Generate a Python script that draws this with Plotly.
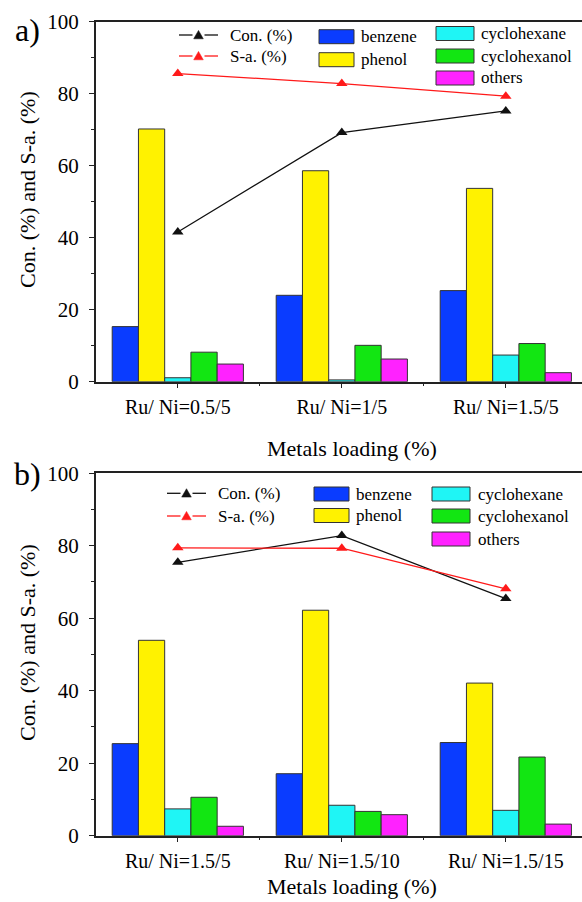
import plotly.graph_objects as go

# ---------------- data ----------------
categories_a = ["Ru/ Ni=0.5/5", "Ru/ Ni=1/5", "Ru/ Ni=1.5/5"]
categories_b = ["Ru/ Ni=1.5/5", "Ru/ Ni=1.5/10", "Ru/ Ni=1.5/15"]
positions = [0, 1, 2]

benzene_a = [15.3, 24.0, 25.3]
phenol_a = [70.2, 58.6, 53.7]
cyclohexane_a = [1.1, 0.5, 7.4]
cyclohexanol_a = [8.2, 10.1, 10.6]
others_a = [4.9, 6.3, 2.5]
con_a = [41.6, 69.2, 75.2]
sa_a = [85.6, 82.8, 79.3]

benzene_b = [25.4, 17.1, 25.7]
phenol_b = [53.9, 62.2, 42.1]
cyclohexane_b = [7.4, 8.4, 7.0]
cyclohexanol_b = [10.6, 6.7, 21.7]
others_b = [2.6, 5.8, 3.2]
con_b = [75.4, 82.8, 65.4]
sa_b = [79.4, 79.3, 68.1]

product_names = ["benzene", "phenol", "cyclohexane", "cyclohexanol", "others"]
product_colors = ["#0a3cff", "#fff200", "#1ff5f5", "#12e612", "#ff22ff"]
y_ticks = [0, 20, 40, 60, 80, 100]

# ---------------- layout helpers ----------------
W, H = 582, 902
FONT = "Liberation Serif, Times New Roman, serif"


def px(x):
    return x / W


def py(y):
    return 1 - y / H


fig = go.Figure()

panels = [
    dict(xa="x", ya="y", cats=categories_a,
         bars=[benzene_a, phenol_a, cyclohexane_a, cyclohexanol_a, others_a],
         con=con_a, sa=sa_a),
    dict(xa="x2", ya="y2", cats=categories_b,
         bars=[benzene_b, phenol_b, cyclohexane_b, cyclohexanol_b, others_b],
         con=con_b, sa=sa_b),
]

for p in panels:
    for name, color, vals in zip(product_names, product_colors, p["bars"]):
        fig.add_trace(go.Bar(
            x=positions, y=vals, name=name, xaxis=p["xa"], yaxis=p["ya"],
            marker=dict(color=color, line=dict(color="#333333", width=1)),
            showlegend=False, offsetgroup=name,
        ))
    fig.add_trace(go.Scatter(
        x=positions, y=p["con"], name="Con. (%)", mode="lines+markers",
        xaxis=p["xa"], yaxis=p["ya"],
        line=dict(color="#111111", width=1.3),
        marker=dict(symbol="triangle-up", size=10, color="#111111"),
        showlegend=False,
    ))
    fig.add_trace(go.Scatter(
        x=positions, y=p["sa"], name="S-a. (%)", mode="lines+markers",
        xaxis=p["xa"], yaxis=p["ya"],
        line=dict(color="#ff1a1a", width=1.3),
        marker=dict(symbol="triangle-up", size=10, color="#ff1a1a"),
        showlegend=False,
    ))

x_dom = [95.8 / W, 1.0]
ya_dom = [py(381.7), py(21.7)]
yb_dom = [py(835.7), py(473.2)]


def xaxis_cfg(cats, anchor):
    return dict(
        domain=x_dom, anchor=anchor, range=[-0.5, 2.4646],
        tickmode="array", tickvals=positions, ticktext=cats,
        ticks="outside", ticklen=5, tickwidth=1.2, tickcolor="#222",
        minor=dict(tickmode="array", tickvals=[0.5, 1.5], ticks="outside",
                   ticklen=3, tickwidth=1.2, tickcolor="#222"),
        showline=True, linecolor="#222", linewidth=1.5, mirror=True,
        showgrid=False, zeroline=False, automargin=False,
        tickfont=dict(family=FONT, size=20, color="black"),
        ticklabelstandoff=2,
    )


def yaxis_cfg(dom, anchor):
    return dict(
        domain=dom, anchor=anchor, range=[0, 100],
        tickmode="array", tickvals=y_ticks,
        ticks="outside", ticklen=5, tickwidth=1.2, tickcolor="#222",
        minor=dict(tickmode="array", tickvals=[10, 30, 50, 70, 90], ticks="outside",
                   ticklen=3, tickwidth=1.2, tickcolor="#222"),
        showline=True, linecolor="#222", linewidth=1.5, mirror=False,
        showgrid=False, zeroline=False, automargin=False,
        tickfont=dict(family=FONT, size=21, color="black"),
        ticklabelstandoff=6,
    )


fig.update_layout(
    width=W, height=H,
    margin=dict(l=0, r=0, t=0, b=0),
    paper_bgcolor="white", plot_bgcolor="white",
    barmode="group", bargap=0.2, bargroupgap=0,
    showlegend=False,
    xaxis=xaxis_cfg(categories_a, "y"),
    yaxis=yaxis_cfg(ya_dom, "x"),
    xaxis2=xaxis_cfg(categories_b, "y2"),
    yaxis2=yaxis_cfg(yb_dom, "x2"),
    font=dict(family=FONT, color="black"),
)

annotations = []
shapes = []


def text(x, y, s, size, xanchor="left", angle=0):
    annotations.append(dict(
        x=px(x), y=py(y), xref="paper", yref="paper", text=s, showarrow=False,
        xanchor=xanchor, yanchor="middle", textangle=angle,
        font=dict(family=FONT, size=size, color="black"),
    ))


def legend_line(x0, x1, y, color):
    cx = (x0 + x1) / 2
    shapes.append(dict(type="line", xref="paper", yref="paper",
                       x0=px(x0), x1=px(cx - 6), y0=py(y), y1=py(y),
                       line=dict(color=color, width=1.3)))
    shapes.append(dict(type="line", xref="paper", yref="paper",
                       x0=px(cx + 6), x1=px(x1), y0=py(y), y1=py(y),
                       line=dict(color=color, width=1.3)))
    path = "M {:.5f},{:.5f} L {:.5f},{:.5f} L {:.5f},{:.5f} Z".format(
        px(cx - 4.8), py(y + 3.8), px(cx + 4.8), py(y + 3.8), px(cx), py(y - 4.6))
    shapes.append(dict(type="path", xref="paper", yref="paper", path=path,
                       fillcolor=color, line=dict(color=color, width=0.5)))


def swatch(x0, x1, yc, color):
    shapes.append(dict(type="rect", xref="paper", yref="paper",
                       x0=px(x0), x1=px(x1), y0=py(yc - 7), y1=py(yc + 7),
                       fillcolor=color, line=dict(color="#333333", width=1)))


def panel_legend(line_x0, line_x1, line_text_x, line_rows,
                 c1_x0, c1_x1, c1_text, c1_rows,
                 c2_x0, c2_x1, c2_text, c2_rows):
    legend_line(line_x0, line_x1, line_rows[0], "#111111")
    legend_line(line_x0, line_x1, line_rows[1], "#ff1a1a")
    text(line_text_x, line_rows[0], "Con. (%)", 17)
    text(line_text_x, line_rows[1], "S-a. (%)", 17)
    for i in range(2):
        swatch(c1_x0, c1_x1, c1_rows[i], product_colors[i])
        text(c1_text, c1_rows[i], product_names[i], 17)
    for i in range(3):
        swatch(c2_x0, c2_x1, c2_rows[i], product_colors[2 + i])
        text(c2_text, c2_rows[i], product_names[2 + i], 17)


panel_legend(179, 218, 228, [35, 56],
             319, 354, 359, [36.7, 59.7],
             436, 474, 479, [33.5, 56, 78])
panel_legend(167, 206, 216, [493.3, 516],
             314, 349, 354, [494, 515.5],
             432, 470, 476, [494, 516, 539])

# panel labels
text(27, 30, "a)", 32, xanchor="center")
text(27, 474, "b)", 32, xanchor="center")

# axis titles
text(27, 190, "Con. (%) and S-a. (%)", 22, xanchor="center", angle=-90)
text(27, 643, "Con. (%) and S-a. (%)", 22, xanchor="center", angle=-90)
text(352, 448, "Metals loading (%)", 22, xanchor="center")
text(352, 886, "Metals loading (%)", 22, xanchor="center")

fig.update_layout(annotations=annotations, shapes=shapes)

fig.write_html("out.html")
